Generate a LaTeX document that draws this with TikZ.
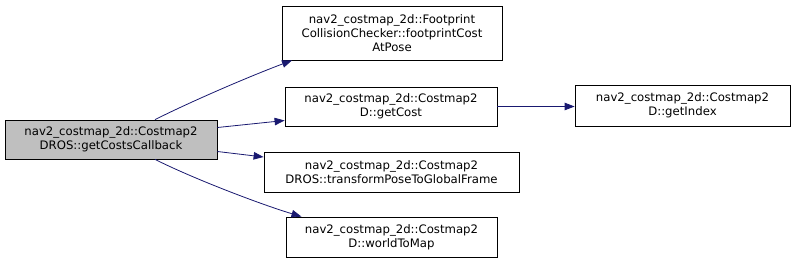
\documentclass[tikz,border=0pt]{standalone}
\usepackage{fontspec}
\setmainfont{DejaVu Sans}
\usetikzlibrary{arrows.meta}

\tikzset{
    fn/.style={draw, thick, align=center, inner sep=0pt, font=\fontsize{11.7}{14.2}\selectfont},
    edge/.style={draw={rgb,255:red,25;green,25;blue,112}, line width=0.8pt, -{Triangle[length=10pt,width=7.5pt]}}
}

\begin{document}
\begin{tikzpicture}[x=1pt,y=-1pt]

    \useasboundingbox (0,0) rectangle (795,263);

    \node[fn, fill={rgb,255:red,191;green,191;blue,191}, minimum width=212, minimum height=39] (root) at (111,139.5) {nav2\_costmap\_2d::Costmap2\\DROS::getCostsCallback};

    \node[fn, minimum width=220, minimum height=54] (fp) at (392,33) {nav2\_costmap\_2d::Footprint\\CollisionChecker::footprintCost\\AtPose};

    \node[fn, minimum width=212, minimum height=39] (gc) at (391,106.5) {nav2\_costmap\_2d::Costmap2\\D::getCost};

    \node[fn, minimum width=255, minimum height=40] (tr) at (391.5,172) {nav2\_costmap\_2d::Costmap2\\DROS::transformPoseToGlobalFrame};

    \node[fn, minimum width=211, minimum height=40] (wm) at (391.5,237) {nav2\_costmap\_2d::Costmap2\\D::worldToMap};

    \node[fn, minimum width=215, minimum height=41] (gi) at (682.5,105.5) {nav2\_costmap\_2d::Costmap2\\D::getIndex};

    \draw[edge] ([xshift=44]root.north) .. controls +(40,-20) and +(-40,15) .. ([xshift=-100]fp.south);

    \draw[edge] ([yshift=12]root.east) -- ([yshift=-14]gc.west);

    \draw[edge] ([yshift=-12]root.east) -- ([yshift=15]tr.west);

    \draw[edge] ([xshift=44]root.south) .. controls +(40,20) and +(-40,-12) .. ([xshift=-90]wm.north);

    \draw[edge] (gc.east) -- (gc.east -| gi.west);

\end{tikzpicture}
\end{document}
